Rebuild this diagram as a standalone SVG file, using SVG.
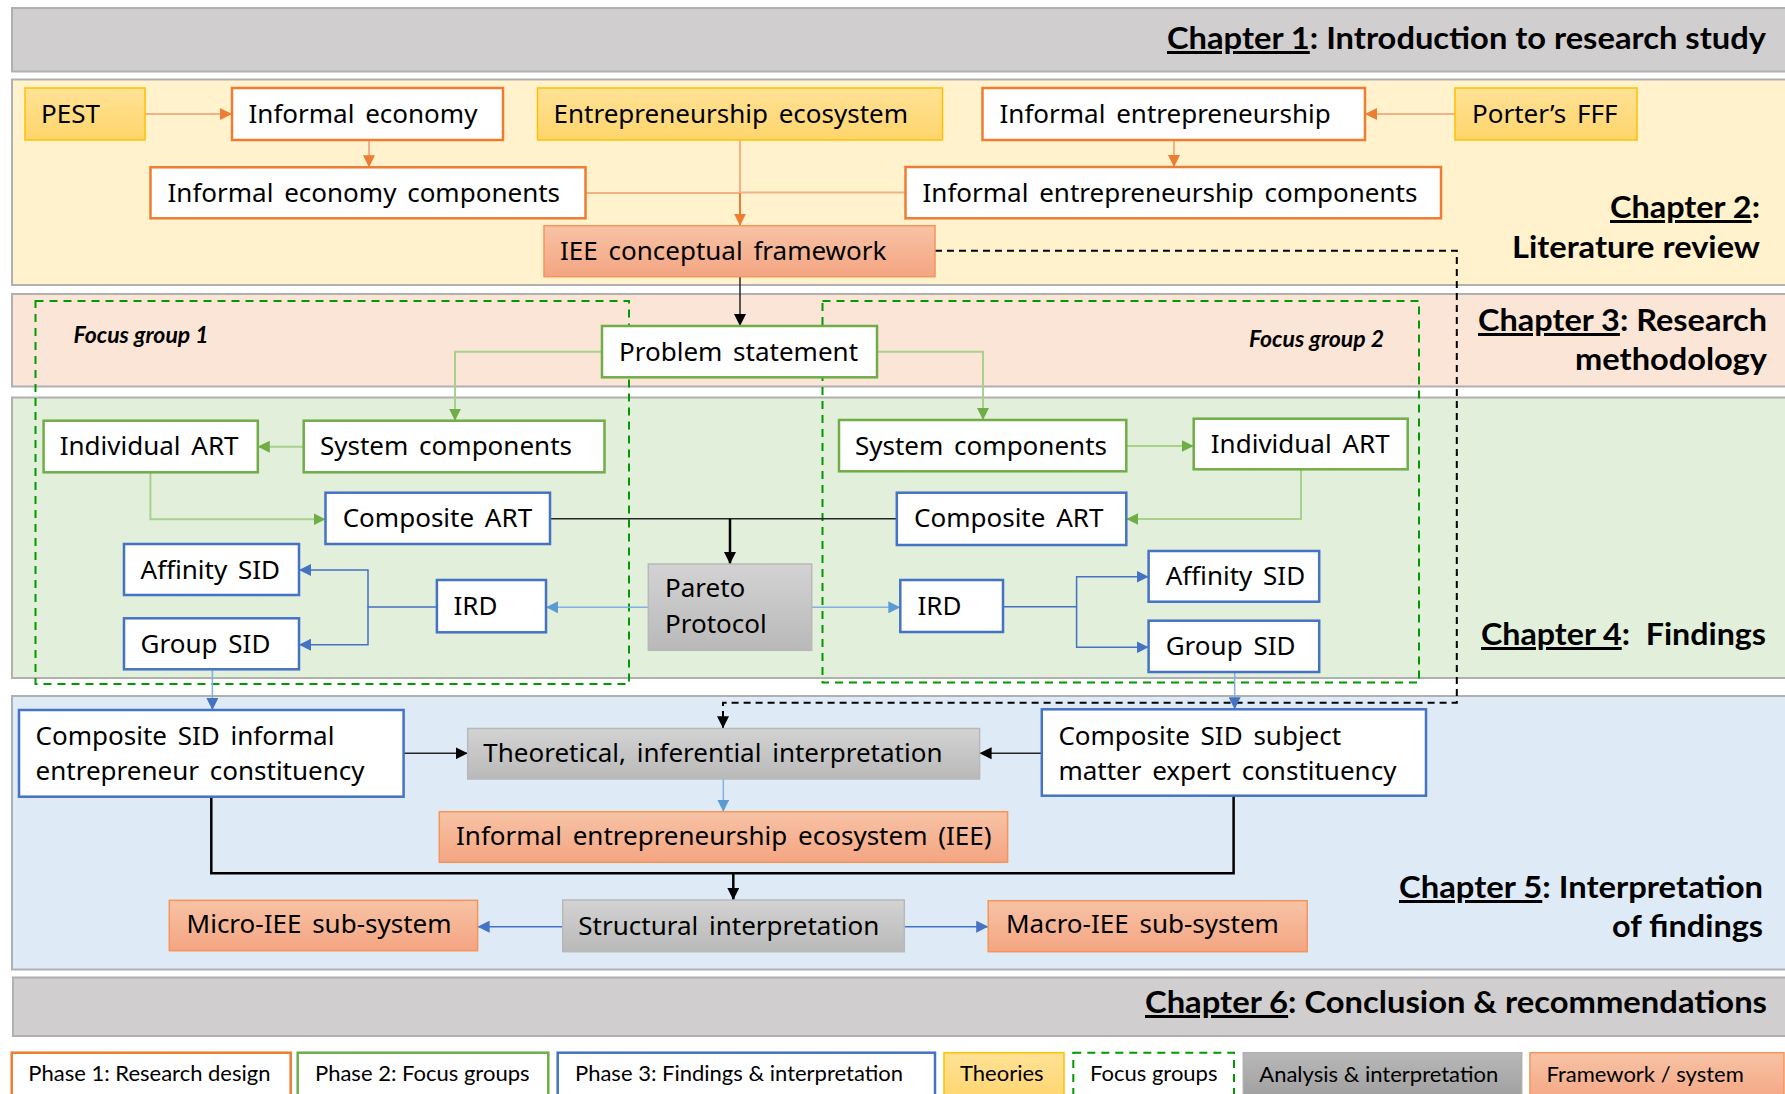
<svg xmlns="http://www.w3.org/2000/svg" width="1785" height="1094" viewBox="0 0 1785 1094">
  <style>
    .band { stroke: #b0b0b0; stroke-width: 2; }
    .t { font-family: "Noto Sans", "Open Sans", sans-serif; font-size: 26px; fill: #000; word-spacing: 4px; }
    .ch { font-family: Lato, "Liberation Sans", sans-serif; font-weight: bold; font-size: 30px; fill: #000; }
    .fg { font-family: Lato, "Liberation Sans", sans-serif; font-weight: bold; font-style: italic; font-size: 23px; fill: #000; }
    .lg { font-family: Lato, "Liberation Sans", sans-serif; font-size: 22px; fill: #000; }
    .bo { fill: #fff; stroke: #ed7d31; stroke-width: 2.5; }
    .bg { fill: #fff; stroke: #70ad47; stroke-width: 2.5; }
    .bb { fill: #fff; stroke: #4472c4; stroke-width: 2.5; }
    .theory { fill: url(#gTheory); stroke: #ffc000; stroke-width: 1.5; }
    .frame { fill: url(#gFrame); stroke: #f4955a; stroke-width: 1.5; }
    .anal { fill: url(#gGray); stroke: #b8b8b8; stroke-width: 1.5; }
    .fgbox { fill: none; stroke: #009900; stroke-width: 2; stroke-dasharray: 8 6; }
    .c { fill: none; }
    .co { stroke: #f4b183; stroke-width: 2; }
    .cod { stroke: #ed7d31; stroke-width: 2; }
    .cg { stroke: #a9d18e; stroke-width: 2; }
    .cb { stroke: #4472c4; stroke-width: 1.5; }
    .clb { stroke: #7fb2e0; stroke-width: 1.5; }
    .ck { stroke: #262626; stroke-width: 1.5; }
    .ckb { stroke: #000; stroke-width: 2.5; }
    .cd { stroke: #000; stroke-width: 2; stroke-dasharray: 7 5; }
  </style>
  <defs>
    <linearGradient id="gTheory" x1="0" y1="0" x2="0" y2="1">
      <stop offset="0" stop-color="#ffe296"/>
      <stop offset="1" stop-color="#ffd56c"/>
    </linearGradient>
    <linearGradient id="gFrame" x1="0" y1="0" x2="0" y2="1">
      <stop offset="0" stop-color="#f7c3a5"/>
      <stop offset="1" stop-color="#f4a582"/>
    </linearGradient>
    <linearGradient id="gGray" x1="0" y1="0" x2="0" y2="1">
      <stop offset="0" stop-color="#d3d3d3"/>
      <stop offset="1" stop-color="#b9b9b9"/>
    </linearGradient>
    <linearGradient id="gGrayDark" x1="0" y1="0" x2="0" y2="1">
      <stop offset="0" stop-color="#b8b8b8"/>
      <stop offset="1" stop-color="#9d9d9d"/>
    </linearGradient>
    <marker id="aO" markerUnits="userSpaceOnUse" markerWidth="12" markerHeight="12" viewBox="0 0 12 12" refX="12" refY="6" orient="auto"><path d="M0,0 L12,6 L0,12 z" fill="#ed7d31"/></marker>
    <marker id="aG" markerUnits="userSpaceOnUse" markerWidth="12" markerHeight="12" viewBox="0 0 12 12" refX="12" refY="6" orient="auto"><path d="M0,0 L12,6 L0,12 z" fill="#70ad47"/></marker>
    <marker id="aB" markerUnits="userSpaceOnUse" markerWidth="12" markerHeight="12" viewBox="0 0 12 12" refX="12" refY="6" orient="auto"><path d="M0,0 L12,6 L0,12 z" fill="#4472c4"/></marker>
    <marker id="aLB" markerUnits="userSpaceOnUse" markerWidth="12" markerHeight="12" viewBox="0 0 12 12" refX="12" refY="6" orient="auto"><path d="M0,0 L12,6 L0,12 z" fill="#5b9bd5"/></marker>
    <marker id="aK" markerUnits="userSpaceOnUse" markerWidth="12" markerHeight="12" viewBox="0 0 12 12" refX="12" refY="6" orient="auto"><path d="M0,0 L12,6 L0,12 z" fill="#000"/></marker>
  </defs>

  <rect x="0" y="0" width="1785" height="1094" fill="#fff"/>

  <!-- chapter bands -->
  <g id="bands">
    <rect class="band" x="12" y="8" width="1790" height="63.5" fill="#d0cece"/>
    <rect class="band" x="12" y="79.5" width="1790" height="205.5" fill="#fff2cc"/>
    <rect class="band" x="12" y="294" width="1790" height="92.5" fill="#fbe5d6"/>
    <rect class="band" x="12" y="397.5" width="1790" height="280.5" fill="#e2efda"/>
    <rect class="band" x="12" y="696" width="1790" height="273.5" fill="#deebf7"/>
    <rect class="band" x="13" y="977.5" width="1790" height="58.5" fill="#d0cece"/>
  </g>

  <!-- chapter titles -->
  <g id="chapter-titles">
    <text class="ch" x="1167" y="49" textLength="599" lengthAdjust="spacingAndGlyphs"><tspan text-decoration="underline">Chapter 1</tspan>: Introduction to research study</text>
    <text class="ch" x="1610" y="218" textLength="150" lengthAdjust="spacingAndGlyphs"><tspan text-decoration="underline">Chapter 2</tspan>:</text>
    <text class="ch" x="1512" y="258" textLength="248" lengthAdjust="spacingAndGlyphs">Literature review</text>
    <text class="ch" x="1478" y="331" textLength="289" lengthAdjust="spacingAndGlyphs"><tspan text-decoration="underline">Chapter 3</tspan>: Research</text>
    <text class="ch" x="1575" y="370" textLength="192" lengthAdjust="spacingAndGlyphs">methodology</text>
    <text class="ch" x="1481" y="645" textLength="285" lengthAdjust="spacingAndGlyphs" xml:space="preserve"><tspan text-decoration="underline">Chapter 4</tspan>:  Findings</text>
    <text class="ch" x="1399" y="898" textLength="364" lengthAdjust="spacingAndGlyphs"><tspan text-decoration="underline">Chapter 5</tspan>: Interpretation</text>
    <text class="ch" x="1612" y="937" textLength="151" lengthAdjust="spacingAndGlyphs">of findings</text>
    <text class="ch" x="1145" y="1013" textLength="622" lengthAdjust="spacingAndGlyphs"><tspan text-decoration="underline">Chapter 6</tspan>: Conclusion &amp; recommendations</text>
  </g>

  <!-- focus group frames -->
  <g id="focus-group-1">
    <rect class="fgbox" x="35.5" y="301" width="593.5" height="383"/>
    <text class="fg" x="73.5" y="343">Focus group 1</text>
  </g>
  <g id="focus-group-2">
    <rect class="fgbox" x="822.5" y="301" width="596.5" height="381.5"/>
    <text class="fg" x="1384" y="346.5" text-anchor="end">Focus group 2</text>
  </g>

  <!-- connectors -->
  <g id="connectors" class="c">
    <!-- literature review -->
    <path class="c co" d="M145,114 H232" marker-end="url(#aO)"/>
    <path class="c co" d="M369,140 V167.3" marker-end="url(#aO)"/>
    <path class="c co" d="M1455,114 H1365" marker-end="url(#aO)"/>
    <path class="c co" d="M1174,140 V167" marker-end="url(#aO)"/>
    <path class="c co" d="M585.5,193 H740 M905.5,192.5 H740 M740,140 V193"/>
    <path class="c cod" d="M740,193 V225.7" marker-end="url(#aO)"/>
    <path class="c ck" d="M740,276.7 V326" marker-end="url(#aK)"/>
    <path class="c cd" d="M935,250.7 H1456.8 V702.7 H723 V728.3" marker-end="url(#aK)"/>
    <!-- focus groups -->
    <path class="c cg" d="M602,351.7 H455 V420.7" marker-end="url(#aG)"/>
    <path class="c cg" d="M877,351.7 H983 V420" marker-end="url(#aG)"/>
    <path class="c cg" d="M303.7,446.7 H257.8" marker-end="url(#aG)"/>
    <path class="c cg" d="M150.4,472.3 V519.3 H325.5" marker-end="url(#aG)"/>
    <path class="c cg" d="M1126.3,446 H1193.7" marker-end="url(#aG)"/>
    <path class="c cg" d="M1301,469.3 V519 H1126.3" marker-end="url(#aG)"/>
    <path class="c ck" d="M550,518.7 H896.8"/>
    <path class="c ckb" d="M730,518.7 V564" stroke-width="2" marker-end="url(#aK)"/>
    <path class="c clb" d="M648.3,607.3 H546" marker-end="url(#aLB)"/>
    <path class="c clb" d="M811.7,607.3 H900.3" marker-end="url(#aLB)"/>
    <path class="c cb" d="M436.9,607 H368 V570 H299" marker-end="url(#aB)"/>
    <path class="c cb" d="M368,607 V644.7 H299" marker-end="url(#aB)"/>
    <path class="c cb" d="M1003,606.7 H1076.6 V576.7 H1148.6" marker-end="url(#aB)"/>
    <path class="c cb" d="M1076.6,606.7 V647.3 H1148.6" marker-end="url(#aB)"/>
    <path class="c clb" d="M212.4,669.3 V710" marker-end="url(#aB)"/>
    <path class="c clb" d="M1234.7,672 V709.3" marker-end="url(#aB)"/>
    <!-- interpretation -->
    <path class="c ck" d="M403.6,753.3 H467.7" stroke-width="2" marker-end="url(#aK)"/>
    <path class="c ck" d="M1041.8,753.3 H979.6" stroke-width="2" marker-end="url(#aK)"/>
    <path class="c clb" d="M723.3,779 V811.7" marker-end="url(#aLB)"/>
    <path class="c ckb" d="M211.3,796.7 V873.3 H1233.6 V795.7"/>
    <path class="c ckb" d="M733.3,873.3 V900" stroke-width="2" marker-end="url(#aK)"/>
    <path class="c cb" d="M562.7,926.7 H477.6" marker-end="url(#aB)"/>
    <path class="c cb" d="M904.3,926.7 H988.2" marker-end="url(#aB)"/>
  </g>

  <!-- literature review nodes -->
  <g id="pest"><rect class="theory" x="25" y="88" width="120" height="52"/><text class="t" x="41" y="123">PEST</text></g>
  <g id="informal-economy"><rect class="bo" x="232" y="88" width="271" height="52"/><text class="t" x="248.5" y="123">Informal economy</text></g>
  <g id="entrepreneurship-ecosystem"><rect class="theory" x="537.5" y="88" width="405" height="52"/><text class="t" x="553.5" y="123">Entrepreneurship ecosystem</text></g>
  <g id="informal-entrepreneurship"><rect class="bo" x="982.5" y="88" width="382.5" height="52"/><text class="t" x="999.5" y="123">Informal entrepreneurship</text></g>
  <g id="porters-fff"><rect class="theory" x="1455" y="88" width="182" height="52"/><text class="t" x="1472" y="123">Porter’s FFF</text></g>
  <g id="informal-economy-components"><rect class="bo" x="150.5" y="167.3" width="435" height="51"/><text class="t" x="167.5" y="201.7">Informal economy components</text></g>
  <g id="informal-entrepreneurship-components"><rect class="bo" x="905.5" y="167" width="535.5" height="51.3"/><text class="t" x="922.5" y="201.5">Informal entrepreneurship components</text></g>
  <g id="iee-conceptual-framework"><rect class="frame" x="544" y="225.7" width="391" height="51"/><text class="t" x="560" y="260">IEE conceptual framework</text></g>

  <!-- research methodology and findings nodes -->
  <g id="problem-statement"><rect class="bg" x="602" y="326" width="275" height="51.3"/><text class="t" x="619" y="360.7">Problem statement</text></g>
  <g id="system-components-1"><rect class="bg" x="303.7" y="420.7" width="300.8" height="51.6"/><text class="t" x="320" y="455">System components</text></g>
  <g id="individual-art-1"><rect class="bg" x="43.6" y="420.7" width="214.2" height="51.6"/><text class="t" x="59.7" y="455">Individual ART</text></g>
  <g id="composite-art-1"><rect class="bb" x="325.5" y="492.7" width="224.5" height="51.3"/><text class="t" x="342.7" y="527">Composite ART</text></g>
  <g id="affinity-sid-1"><rect class="bb" x="124" y="544" width="175" height="51"/><text class="t" x="140.6" y="578.5">Affinity SID</text></g>
  <g id="group-sid-1"><rect class="bb" x="124" y="618.3" width="175" height="51"/><text class="t" x="140.6" y="652.7">Group SID</text></g>
  <g id="ird-1"><rect class="bb" x="436.9" y="580" width="109.1" height="52.3"/><text class="t" x="453.5" y="615">IRD</text></g>
  <g id="pareto-protocol"><rect class="anal" x="648.3" y="564" width="163.4" height="86.3"/><text class="t" x="665" y="597.3">Pareto</text><text class="t" x="665" y="632.7">Protocol</text></g>
  <g id="system-components-2"><rect class="bg" x="839" y="420" width="287.3" height="51.3"/><text class="t" x="855" y="454.5">System components</text></g>
  <g id="individual-art-2"><rect class="bg" x="1193.7" y="418.7" width="214" height="50.6"/><text class="t" x="1210.8" y="452.7">Individual ART</text></g>
  <g id="composite-art-2"><rect class="bb" x="896.8" y="492.7" width="229.5" height="52.3"/><text class="t" x="914" y="527.3">Composite ART</text></g>
  <g id="ird-2"><rect class="bb" x="900.3" y="580" width="102.7" height="52"/><text class="t" x="917.4" y="615">IRD</text></g>
  <g id="affinity-sid-2"><rect class="bb" x="1148.6" y="551" width="170.6" height="50.7"/><text class="t" x="1165.7" y="585">Affinity SID</text></g>
  <g id="group-sid-2"><rect class="bb" x="1148.6" y="620.7" width="170.6" height="51.3"/><text class="t" x="1165.7" y="655">Group SID</text></g>

  <!-- interpretation nodes -->
  <g id="composite-sid-informal"><rect class="bb" x="19" y="710" width="384.6" height="86.7"/><text class="t" x="35.6" y="745" word-spacing="0">Composite SID informal</text><text class="t" x="35.6" y="780">entrepreneur constituency</text></g>
  <g id="theoretical-interpretation"><rect class="anal" x="467.7" y="728.5" width="511.9" height="50.5"/><text class="t" x="483.3" y="761.7">Theoretical, inferential interpretation</text></g>
  <g id="composite-sid-expert"><rect class="bb" x="1041.8" y="709.3" width="384.2" height="86.4"/><text class="t" x="1058.4" y="745" word-spacing="0">Composite SID subject</text><text class="t" x="1058.4" y="780" word-spacing="0">matter expert constituency</text></g>
  <g id="iee"><rect class="frame" x="439.3" y="811.7" width="568.3" height="50.6"/><text class="t" x="456" y="845">Informal entrepreneurship ecosystem (IEE)</text></g>
  <g id="micro-iee"><rect class="frame" x="169.3" y="900.3" width="308.3" height="50.4"/><text class="t" x="186.6" y="933.3">Micro-IEE sub-system</text></g>
  <g id="structural-interpretation"><rect class="anal" x="562.7" y="900" width="341.6" height="51.7"/><text class="t" x="578.3" y="935">Structural interpretation</text></g>
  <g id="macro-iee"><rect class="frame" x="988.2" y="900.7" width="319" height="51"/><text class="t" x="1006" y="933.3">Macro-IEE sub-system</text></g>

  <!-- legend -->
  <g id="legend">
    <rect class="bo" x="11.7" y="1052.7" width="279" height="50" stroke-width="2"/>
    <text class="lg" x="28.3" y="1081">Phase 1: Research design</text>
    <rect class="bg" x="297.7" y="1052.7" width="250.6" height="50" stroke-width="2"/>
    <text class="lg" x="315" y="1081">Phase 2: Focus groups</text>
    <rect class="bb" x="557.7" y="1052.7" width="377.3" height="50" stroke-width="2"/>
    <text class="lg" x="575" y="1081">Phase 3: Findings &amp; interpretation</text>
    <rect class="theory" x="944" y="1052.7" width="120" height="50"/>
    <text class="lg" x="960" y="1081">Theories</text>
    <rect class="fgbox" x="1073.3" y="1052.7" width="160.7" height="50" fill="#fff"/>
    <text class="lg" x="1090" y="1081">Focus groups</text>
    <rect x="1243.3" y="1052.7" width="278.4" height="50" fill="url(#gGrayDark)" stroke="#b0b0b0" stroke-width="1.5"/>
    <text class="lg" x="1259.3" y="1081.5">Analysis &amp; interpretation</text>
    <rect class="frame" x="1530" y="1052.7" width="254" height="50"/>
    <text class="lg" x="1546.4" y="1081.5">Framework / system</text>
  </g>
</svg>
